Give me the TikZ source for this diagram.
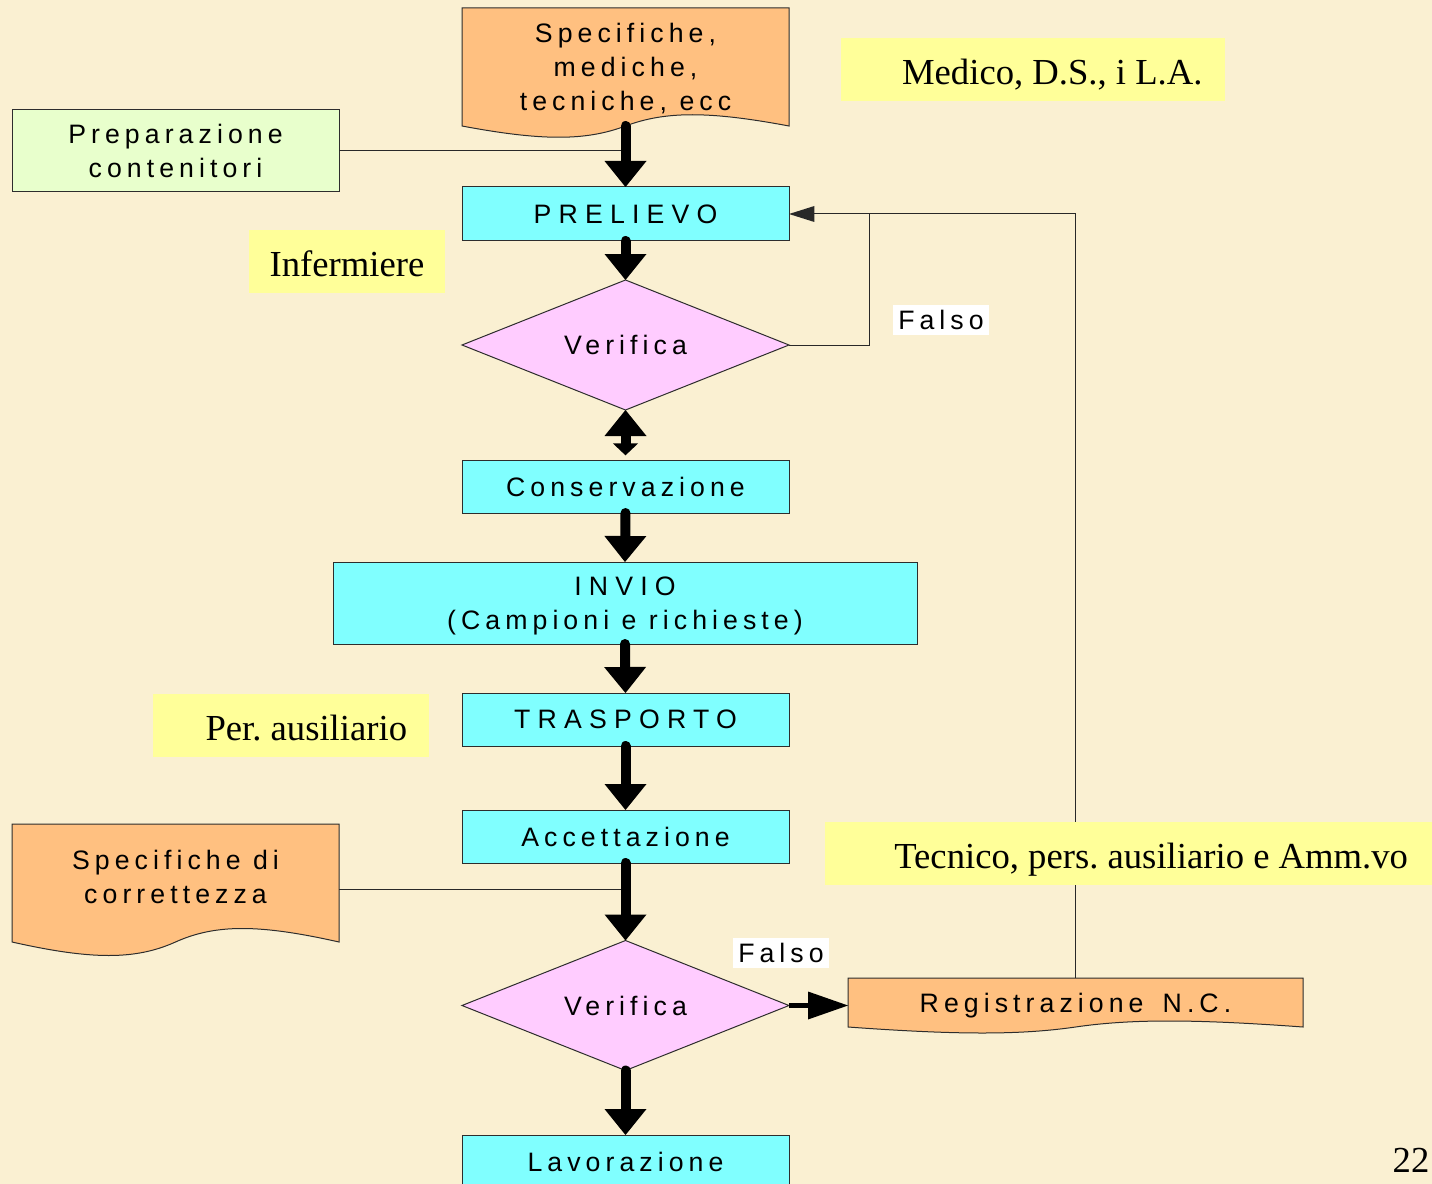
\documentclass[tikz,border=0pt]{standalone}
\usepackage{fontspec}
\setmainfont{Liberation Serif}
\newfontfamily\boxfont[LetterSpace=19]{Liberation Sans}
\newfontfamily\capsfont[LetterSpace=27]{Liberation Sans}
\usetikzlibrary{arrows.meta,shapes.geometric}
\pgfdeclarelayer{back}
\pgfdeclarelayer{docs}
\pgfsetlayers{back,docs,main}
\definecolor{pagebg}{RGB}{250,240,210}
\definecolor{docorange}{RGB}{255,192,128}
\definecolor{boxcyan}{RGB}{128,255,255}
\definecolor{diapink}{RGB}{255,204,255}
\definecolor{prepgreen}{RGB}{232,255,204}
\definecolor{labyellow}{RGB}{255,255,153}
\definecolor{edge}{RGB}{45,45,45}
\definecolor{wire}{RGB}{40,40,40}
\frenchspacing
\begin{document}
\begin{tikzpicture}[x=0.75pt,y=-0.75pt,
  boxtext/.style={font=\boxfont\fontsize{20}{25.5}\selectfont, align=center, text depth=0pt},
  procbox/.style={boxtext, draw=edge, line width=0.75pt, fill=boxcyan, minimum width=245.25pt, minimum height=40pt, inner sep=0pt, outer sep=0pt},
  decbox/.style={boxtext, diamond, draw=edge, line width=0.75pt, fill=diapink, minimum width=245.25pt, minimum height=97.5pt, aspect=2.5, inner sep=0pt, outer sep=0pt},
  docnode/.style={boxtext, inner sep=0pt, outer sep=0pt},
  docshape/.style={draw=edge, line width=0.75pt, fill=docorange},
  rolelabel/.style={fill=labyellow, inner sep=0pt, minimum height=47.25pt, text height=22pt, text depth=0pt, font=\frenchspacing\fontsize{27.5}{33}\selectfont},
  falsolabel/.style={boxtext, fill=white, minimum width=72pt, minimum height=22.5pt, inner sep=0pt},
  bigarrow/.style={line width=7.5pt, line cap=round, -{Triangle[width=31.5pt,length=19.5pt,line width=0pt]}},
  thinline/.style={draw=wire, line width=0.75pt},
]
\useasboundingbox (0,0) rectangle (1432,1184);
\begin{pgfonlayer}{back}
\fill[pagebg] (0,0) rectangle (1432,1184);
\end{pgfonlayer}

% documents
\node[docnode, minimum width=245.25pt, minimum height=88.5pt] (spec1) at (625.5,67) {Specifiche,\\mediche,\\tecniche, ecc};
\node[docnode, minimum width=245.25pt, minimum height=79.5pt] (corr) at (175.5,877) {Specifiche di\\correttezza};
\node[docnode, minimum width=341.25pt, minimum height=36.75pt] (reg) at (1075.5,1002.5) {Registrazione\hspace{5pt} N.C.};
\begin{pgfonlayer}{docs}
\path[docshape] (spec1.south east) -- (spec1.north east) -- (spec1.north west) -- (spec1.south west)
  .. controls +(80,15) and +(-40,15) .. (spec1.south)
  .. controls +(40,-15) and +(-80,-15) .. (spec1.south east) -- cycle;
\path[docshape] ([yshift=-9pt]corr.south east) -- (corr.north east) -- (corr.north west) -- ([yshift=-9pt]corr.south west)
  .. controls +(80,18) and +(-40,18) .. ([yshift=-9pt]corr.south)
  .. controls +(40,-18) and +(-80,-18) .. ([yshift=-9pt]corr.south east) -- cycle;
\path[docshape] (reg.south east) -- (reg.north east) -- (reg.north west) -- (reg.south west)
  .. controls +(110,8) and +(-55,8) .. (reg.south)
  .. controls +(55,-8) and +(-110,-8) .. (reg.south east) -- cycle;
\end{pgfonlayer}

% process boxes
\node[procbox, fill=prepgreen, minimum height=61.5pt] (prep) at (175.5,151) {Preparazione\\contenitori};
\node[procbox, minimum height=40.5pt] (prel) at (625.5,214) {\capsfont PRELIEVO};
\node[decbox] (ver1) at (625.5,345) {Verifica};
\node[procbox, minimum height=39.75pt] (cons) at (625.5,486.5) {Conservazione};
\node[procbox, minimum width=438pt, minimum height=61.5pt] (invio) at (625,603) {{\capsfont INVIO}\\(Campioni e richieste)};
\node[procbox, minimum height=39.75pt] (trasp) at (625.5,719.5) {\capsfont TRASPORTO};
\node[procbox, minimum height=39.75pt] (acc) at (625.5,836.5) {Accettazione};
\node[decbox] (ver2) at (625.5,1005.5) {Verifica};
\node[procbox, minimum height=40.5pt] (lav) at (625.5,1162) {Lavorazione};

% thin connectors
\draw[thinline] (prep.east) -- (prep.east -| prel.north);
\draw[thinline] ([yshift=-9pt]corr.east) -- ([yshift=-9pt]corr.east -| acc.south);
\draw[thinline, -{Triangle[width=12pt,length=19pt,line width=0pt]}] (ver1.east) -- ([xshift=60pt]ver1.east) |- (prel.east);
\draw[thinline] (reg.north) |- ([xshift=60pt]prel.east);

% role labels (drawn over the thin connectors)
\node[rolelabel, minimum width=288pt] (medico) at (1033,69.5) {\hspace*{29pt}Medico, D.S., i L.A.};
\node[rolelabel, minimum width=147pt] (inferm) at (347,261.5) {Infermiere};
\node[rolelabel, minimum width=207pt] (peraus) at (291,725.5) {\hspace*{23pt}Per.\ ausiliario};
\node[rolelabel, minimum width=455.25pt] (tecnico) at (1128.5,853.5) {\hspace*{34pt}Tecnico, pers.\ ausiliario e Amm.vo};

% labels
\node[falsolabel] (falso1) at (941,320) {Falso};
\node[falsolabel] (falso2) at (781,953) {Falso};
\node[font=\fontsize{27.5}{33}\selectfont, inner sep=0pt] (page) at (1411,1160) {22};

% thick arrows
\draw[bigarrow] (spec1.south) -- (prel.north);
\draw[bigarrow] (prel.south) -- (ver1.north);
\draw[line width=7.5pt, line cap=round, {Triangle[width=31.5pt,length=19.5pt,line width=0pt]}-{Triangle[width=19pt,length=9pt,line width=0pt]}, shorten >=3.5pt] (ver1.south) -- (cons.north);
\draw[bigarrow] (cons.south) -- (invio.north);
\draw[bigarrow] (invio.south) -- (trasp.north);
\draw[bigarrow] (trasp.south) -- (acc.north);
\draw[bigarrow] (acc.south) -- (ver2.north);
\draw[bigarrow] (ver2.south) -- (lav.north);
\draw[line width=4pt, -{Triangle[width=21pt,length=30pt,line width=0pt]}] (ver2.east) -- (ver2.east -| reg.west);
\end{tikzpicture}
\end{document}
